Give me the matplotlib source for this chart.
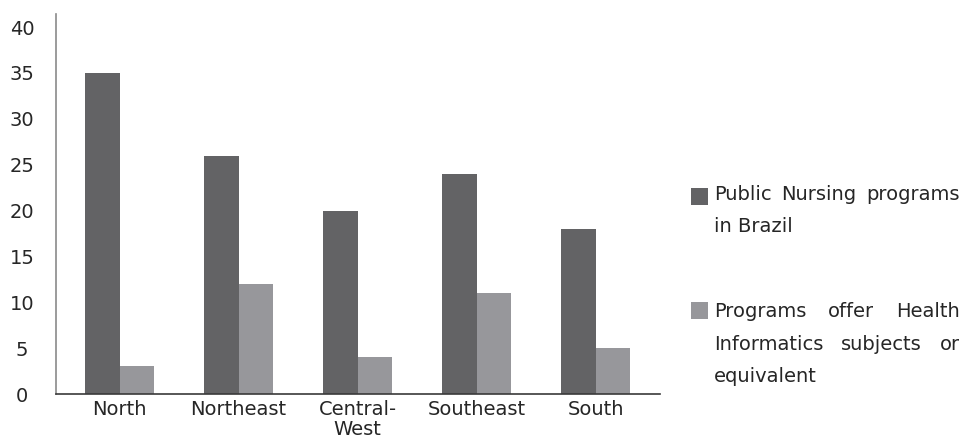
import matplotlib
matplotlib.use("Agg")
import matplotlib.pyplot as plt
import numpy as np

plt.rcParams['font.family'] = ['DejaVu Sans']

categories = ["North", "Northeast", "Central-\nWest", "Southeast", "South"]
public_programs = [35, 26, 20, 24, 18]
health_informatics = [3, 12, 4, 11, 5]
series_labels = ["Public Nursing programs in Brazil",
                 "Programs offer Health Informatics subjects or equivalent"]
yticks = [0, 5, 10, 15, 20, 25, 30, 35, 40]

DARK = "#636365"
LIGHT = "#97979b"
TXT = "#262626"
FS = 14

W, H = 963, 443
fig = plt.figure(figsize=(W / 100, H / 100), dpi=100)
ax = fig.add_axes([56 / W, 1 - 394 / H, (660 - 56) / W, (394 - 14) / H])

x = np.arange(len(categories))
bw = 0.29
ax.bar(x - bw / 2, public_programs, bw, color=DARK, linewidth=0)
ax.bar(x + bw / 2, health_informatics, bw, color=LIGHT, linewidth=0)

ax.set_xlim(-0.534, 4.542)
ax.set_ylim(0, 41.43)
ax.set_yticks(yticks)
ax.set_yticklabels([str(v) for v in yticks], fontsize=FS, color=TXT, ha="center")
ax.tick_params(axis="y", length=0, pad=24.5)
ax.set_xticks(x)
ax.set_xticklabels(categories, fontsize=FS, color=TXT, linespacing=1.1)
ax.tick_params(axis="x", length=0, pad=4)

for s in ["top", "right"]:
    ax.spines[s].set_visible(False)
ax.spines["left"].set_color("#8a8a8a")
ax.spines["left"].set_linewidth(1.2)
ax.spines["bottom"].set_color("#3a3a3a")
ax.spines["bottom"].set_linewidth(1.2)

# Legend (justified text, Excel style)
renderer = fig.canvas.get_renderer()
tx0, tx1 = 714, 960


def fx(px):
    return px / W


def fy(py):
    return 1 - py / H


def justified_line(words, baseline, justify=True):
    if not justify:
        fig.text(fx(tx0), fy(baseline), " ".join(words), fontsize=FS,
                 color=TXT, va="baseline", ha="left")
        return
    texts = [fig.text(0, fy(baseline), w, fontsize=FS, color=TXT,
                      va="baseline", ha="left") for w in words]
    widths = [t.get_window_extent(renderer).width for t in texts]
    gap = (tx1 - tx0 - sum(widths)) / (len(words) - 1)
    pos = tx0
    for t, wd in zip(texts, widths):
        t.set_x(fx(pos))
        pos += wd + gap


def legend_entry(color, sq_top, lines):
    fig.patches.append(plt.Rectangle((fx(691), fy(sq_top + 17)), 17 / W, 17 / H,
                                     transform=fig.transFigure, color=color,
                                     linewidth=0))
    for words, base, just in lines:
        justified_line(words, base, just)


w1 = series_labels[0].split()
w2 = series_labels[1].split()
legend_entry(DARK, 188, [(w1[:3], 200, True), (w1[3:], 232, False)])
legend_entry(LIGHT, 302, [(w2[:3], 317, True), (w2[3:6], 350, True),
                          (w2[6:], 382, False)])

fig.savefig("out.png", dpi=100)
